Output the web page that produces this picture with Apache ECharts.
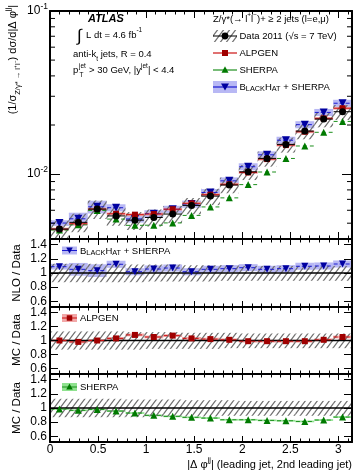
<!DOCTYPE html>
<html><head><meta charset="utf-8">
<script src="https://cdn.jsdelivr.net/npm/echarts@6/dist/echarts.min.js"></script>
<style>html,body{margin:0;padding:0;background:#fff}#c{width:353px;height:473px}</style>
</head><body><div id="c"></div>
<script>
// ---------------- data ----------------
const binEdges = [0, 0.19635, 0.3927, 0.58905, 0.7854, 0.98175, 1.1781, 1.37445, 1.5708, 1.76715, 1.9635, 2.15985, 2.3562, 2.55255, 2.7489, 2.94525, 3.14159];
const dataVals = [0.00460, 0.00506, 0.00610, 0.00554, 0.00522, 0.00542, 0.00569, 0.00643, 0.00733, 0.00857, 0.01033, 0.01248, 0.01521, 0.01836, 0.02174, 0.02413];
const dataErrUp = [0.13, 0.13, 0.13, 0.13, 0.12, 0.12, 0.12, 0.11, 0.11, 0.11, 0.10, 0.10, 0.10, 0.10, 0.10, 0.10];
const dataErrDown = [0.13, 0.13, 0.13, 0.13, 0.13, 0.12, 0.12, 0.12, 0.12, 0.11, 0.11, 0.11, 0.11, 0.11, 0.11, 0.11];
const alpgenVals = [0.00460, 0.00496, 0.00610, 0.00571, 0.00564, 0.00569, 0.00609, 0.00662, 0.00748, 0.00866, 0.01023, 0.01236, 0.01506, 0.01818, 0.02196, 0.02534];
const sherpaVals = [0.00454, 0.00489, 0.00598, 0.00530, 0.00485, 0.00486, 0.00502, 0.00558, 0.00629, 0.00715, 0.00862, 0.01030, 0.01247, 0.01487, 0.01804, 0.02104];
const blackhatVals = [0.00501, 0.00532, 0.00630, 0.00622, 0.00531, 0.00572, 0.00609, 0.00655, 0.00771, 0.00909, 0.01110, 0.01313, 0.01614, 0.02010, 0.02389, 0.02719];
const blackhatRatio = [1.089, 1.052, 1.033, 1.123, 1.018, 1.056, 1.07, 1.018, 1.052, 1.061, 1.075, 1.052, 1.061, 1.095, 1.099, 1.127];
const blackhatErr = [0.04, 0.09, 0.09, 0.05, 0.05, 0.05, 0.05, 0.05, 0.05, 0.05, 0.05, 0.05, 0.05, 0.05, 0.05, 0.05];
const alpgenRatio = [1.0, 0.98, 1.0, 1.03, 1.08, 1.05, 1.07, 1.03, 1.02, 1.01, 0.99, 0.99, 0.99, 0.99, 1.01, 1.05];
const alpgenErr = [0.02, 0.02, 0.02, 0.02, 0.02, 0.02, 0.02, 0.02, 0.02, 0.02, 0.02, 0.02, 0.02, 0.02, 0.02, 0.02];
const sherpaRatio = [0.986, 0.967, 0.98, 0.957, 0.929, 0.896, 0.882, 0.868, 0.858, 0.834, 0.834, 0.825, 0.82, 0.81, 0.83, 0.872];
const sherpaErr = [0.012, 0.012, 0.012, 0.012, 0.012, 0.012, 0.012, 0.012, 0.012, 0.012, 0.012, 0.012, 0.012, 0.012, 0.012, 0.012];
const logMinorTicks = [0.005, 0.006, 0.007, 0.008, 0.009, 0.02, 0.03, 0.04, 0.05, 0.06, 0.07, 0.08, 0.09];
const ratioTicks = [0.6, 0.8, 1, 1.2, 1.4];

// ---------------- style ----------------
const FF = '"Liberation Sans", Arial, Helvetica, sans-serif';
const C_RED = '#a00000', C_RED_L = '#cc1111', C_RED_BAND = '#f2a8a8';
const C_GRN = '#007a00', C_GRN_L = '#1d8f1d', C_GRN_BAND = '#8fe28f';
const C_BLU = '#0000a0', C_BLU_L = '#1a1ad0', C_BLU_BAND = '#b8b8f4';

const hatchCanvas = (function () {
  const w = 6, h = 8, c = document.createElement('canvas');
  c.width = w; c.height = h;
  const g = c.getContext('2d');
  g.strokeStyle = '#707070'; g.lineWidth = 1.25;
  g.beginPath();
  for (let n = 0; n <= 2; n++) {
    g.moveTo(-w, (n + 1) * h); g.lineTo(2 * w, (n - 2) * h);
  }
  g.stroke();
  return c;
})();
const HATCH = { image: hatchCanvas, repeat: 'repeat' };

const centers = dataVals.map((v, i) => (binEdges[i] + binEdges[i + 1]) / 2);

// ---------------- series helpers ----------------
function boxes(xi, yi, lo, hi, fill, z) {
  return {
    type: 'custom', xAxisIndex: xi, yAxisIndex: yi, z, silent: true, clip: true,
    data: lo.map((l, i) => [binEdges[i], binEdges[i + 1], l, hi[i]]),
    encode: { x: [0, 1], y: [2, 3] },
    renderItem(p, api) {
      const a = api.coord([api.value(0), api.value(3)]);
      const b = api.coord([api.value(1), api.value(2)]);
      return { type: 'rect', shape: { x: a[0], y: a[1], width: b[0] - a[0], height: b[1] - a[1] }, style: { fill: fill } };
    }
  };
}
function hlines(xi, yi, vals, color, width, dash, z) {
  return {
    type: 'custom', xAxisIndex: xi, yAxisIndex: yi, z, silent: true, clip: true,
    data: vals.map((v, i) => [binEdges[i], binEdges[i + 1], v]),
    encode: { x: [0, 1], y: 2 },
    renderItem(p, api) {
      const a = api.coord([api.value(0), api.value(2)]);
      const b = api.coord([api.value(1), api.value(2)]);
      return { type: 'line', shape: { x1: a[0] + 0.5, y1: a[1], x2: b[0] - 0.5, y2: b[1] }, style: { stroke: color, lineWidth: width, lineDash: dash || null } };
    }
  };
}
function markers(xi, yi, vals, symbol, size, color, rot, z) {
  return {
    type: 'scatter', xAxisIndex: xi, yAxisIndex: yi, z, silent: true,
    symbol, symbolSize: size, symbolRotate: rot || 0,
    itemStyle: { color: color, opacity: 1 },
    data: vals.map((v, i) => [centers[i], v])
  };
}
function unity(xi, yi) {
  return {
    type: 'line', xAxisIndex: xi, yAxisIndex: yi, z: 3, silent: true, symbol: 'none',
    lineStyle: { color: '#000', width: 1.4 }, data: [[0, 1], [Math.PI, 1]]
  };
}

// ---------------- axes ----------------
const grids = [
  { left: 50, top: 11, width: 302, height: 228 },
  { left: 50, top: 239, width: 302, height: 68 },
  { left: 50, top: 307, width: 302, height: 67 },
  { left: 50, top: 374, width: 302, height: 68 }
].map(g => Object.assign({ containLabel: false, outerBoundsMode: 'none', show: false }, g));

function xAx(grid, pos, showLabel, major, minor) {
  return {
    type: 'value', gridIndex: grid, position: pos, min: 0, max: Math.PI, interval: 0.5, z: 10,
    axisLine: { show: true, onZero: false, lineStyle: { color: '#000', width: 2 } },
    axisTick: { show: true, inside: true, length: major, lineStyle: { color: '#000', width: 1 } },
    minorTick: { show: true, splitNumber: 5, length: minor, lineStyle: { color: '#000', width: 1 } },
    axisLabel: {
      show: showLabel, margin: 2, color: '#000', fontFamily: FF, fontSize: 12,
      formatter: v => (Math.abs(v * 2 - Math.round(v * 2)) < 1e-6 ? String(+v.toFixed(1)) : '')
    },
    splitLine: { show: false }, minorSplitLine: { show: false }
  };
}
function yRatio(grid, pos, showLabel) {
  return {
    type: 'value', gridIndex: grid, position: pos, min: 0.52, max: 1.48, z: 10,
    axisLine: { show: true, onZero: false, lineStyle: { color: '#000', width: 2 } },
    axisTick: { show: true, inside: true, length: 8, customValues: ratioTicks, lineStyle: { color: '#000', width: 1 } },
    axisLabel: {
      show: showLabel, customValues: ratioTicks, margin: 3, color: '#000', fontFamily: FF, fontSize: 12,
      formatter: v => String(+(+v).toFixed(1))
    },
    splitLine: { show: false }
  };
}
function yMain(pos, showLabel) {
  return {
    type: 'log', logBase: 10, gridIndex: 0, position: pos, min: 0.004, max: 0.1, z: 10,
    axisLine: { show: true, onZero: false, lineStyle: { color: '#000', width: 2 } },
    axisTick: { show: true, inside: true, length: 10, lineStyle: { color: '#000', width: 1 } },
    axisLabel: {
      show: showLabel, margin: 2, color: '#000', fontFamily: FF,
      formatter: v => {
        const e = Math.log10(v);
        if (Math.abs(e - Math.round(e)) > 1e-6) return '';
        return '{a|10}{b|' + Math.round(e) + '}';
      },
      rich: {
        a: { fontFamily: FF, fontSize: 12, color: '#000', lineHeight: 18 },
        b: { fontFamily: FF, fontSize: 8.5, color: '#000', verticalAlign: 'top', lineHeight: 9 }
      }
    },
    splitLine: { show: false }
  };
}

const xAxes = [
  xAx(0, 'bottom', false, 7, 3.5), xAx(0, 'top', false, 7, 3.5),
  xAx(1, 'bottom', false, 6, 3.5), xAx(1, 'top', false, 6, 3.5),
  xAx(2, 'bottom', false, 6, 3.5), xAx(2, 'top', false, 6, 3.5),
  xAx(3, 'bottom', true, 6, 3.5), xAx(3, 'top', false, 6, 3.5)
];
const yAxes = [
  yMain('left', true), yMain('right', false),
  yRatio(1, 'left', true), yRatio(1, 'right', false),
  yRatio(2, 'left', true), yRatio(2, 'right', false),
  yRatio(3, 'left', true), yRatio(3, 'right', false)
];

// ---------------- series ----------------
const series = [
  // main panel
  boxes(0, 0, blackhatVals.map((v, i) => v * (1 - blackhatErr[i])), blackhatVals.map((v, i) => v * (1 + blackhatErr[i])), C_BLU_BAND, 1),
  boxes(0, 0, alpgenVals.map((v, i) => v * (1 - alpgenErr[i])), alpgenVals.map((v, i) => v * (1 + alpgenErr[i])), C_RED_BAND, 1),
  boxes(0, 0, dataVals.map((v, i) => v * (1 - dataErrDown[i])), dataVals.map((v, i) => v * (1 + dataErrUp[i])), HATCH, 2),
  hlines(0, 0, sherpaVals, C_GRN_L, 1, [4, 3], 4),
  hlines(0, 0, blackhatVals, C_BLU_L, 1, [4, 2], 4),
  hlines(0, 0, alpgenVals, C_RED_L, 1, null, 4),
  hlines(0, 0, dataVals, '#000', 1, null, 4),
  markers(0, 0, blackhatVals, 'triangle', 8, C_BLU, 180, 5),
  markers(0, 0, alpgenVals, 'rect', 6, C_RED, 0, 5),
  markers(0, 0, sherpaVals, 'triangle', 7, C_GRN, 0, 5),
  markers(0, 0, dataVals, 'circle', 7, '#000', 0, 6),
  // log minor ticks on both sides of the main panel
  {
    type: 'custom', xAxisIndex: 0, yAxisIndex: 0, z: 11, silent: true, clip: false,
    data: logMinorTicks.map(v => [0, v]), encode: { x: 0, y: 1 },
    renderItem(p, api) {
      const a = api.coord([0, api.value(1)]);
      const b = api.coord([Math.PI, api.value(1)]);
      return {
        type: 'group', children: [
          { type: 'line', shape: { x1: a[0], y1: a[1], x2: a[0] + 5, y2: a[1] }, style: { stroke: '#000', lineWidth: 1 } },
          { type: 'line', shape: { x1: b[0] - 5, y1: b[1], x2: b[0], y2: b[1] }, style: { stroke: '#000', lineWidth: 1 } }
        ]
      };
    }
  },
  // ratio 1: NLO / Data
  boxes(2, 2, blackhatRatio.map((r, i) => r - blackhatErr[i]), blackhatRatio.map((r, i) => r + blackhatErr[i]), C_BLU_BAND, 1),
  boxes(2, 2, dataErrDown.map(e => 1 - e), dataErrUp.map(e => 1 + e), HATCH, 2),
  unity(2, 2),
  hlines(2, 2, blackhatRatio, C_BLU_L, 1, [4, 2], 4),
  markers(2, 2, blackhatRatio, 'triangle', 7, C_BLU, 180, 5),
  // ratio 2: ALPGEN
  boxes(4, 4, alpgenRatio.map((r, i) => r - alpgenErr[i]), alpgenRatio.map((r, i) => r + alpgenErr[i]), C_RED_BAND, 1),
  boxes(4, 4, dataErrDown.map(e => 1 - e), dataErrUp.map(e => 1 + e), HATCH, 2),
  unity(4, 4),
  hlines(4, 4, alpgenRatio, C_RED_L, 1, [4, 2], 4),
  markers(4, 4, alpgenRatio, 'rect', 6, C_RED, 0, 5),
  // ratio 3: SHERPA
  boxes(6, 6, sherpaRatio.map((r, i) => r - sherpaErr[i]), sherpaRatio.map((r, i) => r + sherpaErr[i]), C_GRN_BAND, 1),
  boxes(6, 6, dataErrDown.map(e => 1 - e), dataErrUp.map(e => 1 + e), HATCH, 2),
  unity(6, 6),
  hlines(6, 6, sherpaRatio, C_GRN_L, 1, [4, 2], 4),
  markers(6, 6, sherpaRatio, 'triangle', 7, C_GRN, 0, 5)
];

// ---------------- text & legends (graphic) ----------------
const RICH = {
  n: { fontFamily: FF, fontSize: 9.5, color: '#000', lineHeight: 16 },
  sup: { fontFamily: FF, fontSize: 6.5, color: '#000', verticalAlign: 'top', lineHeight: 7 },
  sub: { fontFamily: FF, fontSize: 6.5, color: '#000', verticalAlign: 'bottom', lineHeight: 7 },
  C: { fontFamily: FF, fontSize: 9.5, color: '#000', verticalAlign: 'bottom', lineHeight: 9.5 },
  s: { fontFamily: FF, fontSize: 7.3, color: '#000', verticalAlign: 'bottom', lineHeight: 7.3 },
  N: { fontFamily: FF, fontSize: 11, color: '#000', lineHeight: 18 },
  Nsub: { fontFamily: FF, fontSize: 7.5, color: '#000', verticalAlign: 'bottom', lineHeight: 7.5 },
  Nsup: { fontFamily: FF, fontSize: 7.5, color: '#000', verticalAlign: 'top', lineHeight: 7.5 }
};
function T(x, y, text, o) {
  o = o || {};
  const st = {
    text, fontFamily: FF, fontSize: o.fs || 9.5, fontWeight: o.fw || 'normal', fontStyle: o.fst || 'normal',
    fill: '#000', textAlign: o.align || 'left', textVerticalAlign: o.va || 'middle',
    align: o.align || 'left', verticalAlign: o.va || 'middle', rich: RICH
  };
  return { type: 'text', x, y, rotation: o.rot || 0, z: 100, silent: true, style: st };
}
function R(x, y, w, h, fill) { return { type: 'rect', z: 99, silent: true, shape: { x, y, width: w, height: h }, style: { fill } }; }
function L(x1, y1, x2, y2, c, w, dash) { return { type: 'line', z: 100, silent: true, shape: { x1, y1, x2, y2 }, style: { stroke: c, lineWidth: w || 1, lineDash: dash || null } }; }
function TRI(cx, cy, s, c, down) {
  const h = s * 0.9;
  const pts = down ? [[cx - s / 2, cy - h / 2], [cx + s / 2, cy - h / 2], [cx, cy + h / 2]]
                   : [[cx - s / 2, cy + h / 2], [cx + s / 2, cy + h / 2], [cx, cy - h / 2]];
  return { type: 'polygon', z: 101, silent: true, shape: { points: pts }, style: { fill: c } };
}
function SQ(cx, cy, s, c) { return { type: 'rect', z: 101, silent: true, shape: { x: cx - s / 2, y: cy - s / 2, width: s, height: s }, style: { fill: c } }; }
function CI(cx, cy, r, c) { return { type: 'circle', z: 101, silent: true, shape: { cx, cy, r }, style: { fill: c } }; }

const BH_TEXT = '{C|B}{s|LACK}{C|H}{s|AT}{C| + SHERPA}';

const graphics = [
  // axis titles
  T(13, 5, '{N|(1/σ}{Nsub|Z/γ* → l⁺l⁻}{N|) dσ/d|Δ φ}{Nsup|jj}{N||}', { rot: Math.PI / 2, align: 'right', fs: 11 }),
  T(17, 273, 'NLO / Data', { rot: Math.PI / 2, align: 'center', fs: 11.5 }),
  T(17, 340, 'MC / Data', { rot: Math.PI / 2, align: 'center', fs: 11.5 }),
  T(17, 408, 'MC / Data', { rot: Math.PI / 2, align: 'center', fs: 11.5 }),
  T(352, 465, '{N||Δ φ}{Nsup|jj}{N|| (leading jet, 2nd leading jet)}', { align: 'right', fs: 11 }),

  // ATLAS annotations
  T(88, 18.5, 'ATLAS', { fw: 'bold', fst: 'italic', fs: 11 }),
  T(77, 36.5, '∫', { fs: 17 }),
  T(86, 35, '{n|L dt = 4.6 fb}{sup|-1}'),
  T(73, 54.5, '{n|anti-k}{sub|t}{n| jets, R = 0.4}'),
  T(73, 70.5, 'p'),
  T(79, 66, 'jet', { fs: 6.5 }),
  T(79.5, 75, 'T', { fs: 6.5 }),
  T(89, 70.5, '{n|> 30 GeV, |y}{sup|jet}{n|| < 4.4}'),

  // main legend
  T(213, 19.5, '{n|Z/γ*(→ l}{sup|+}{n|l}{sup|−}{n|)+ ≥ 2 jets (l=e,μ)}'),
  R(213, 30, 24, 12, HATCH),
  L(213, 36, 237, 36, '#000', 1),
  CI(225, 36, 3.4, '#000'),
  T(239.5, 36, 'Data 2011 (√s = 7 TeV)'),
  L(213, 53, 237, 53, C_RED_L, 1.2),
  SQ(225, 53, 6, C_RED),
  T(239.5, 53, 'ALPGEN'),
  L(213, 70, 237, 70, C_GRN_L, 1.2),
  TRI(225, 69.5, 7, C_GRN, false),
  T(239.5, 70, 'SHERPA'),
  R(213, 81, 24, 12, C_BLU_BAND),
  L(213, 87, 237, 87, C_BLU_L, 1.2),
  TRI(225, 87, 8, C_BLU, true),
  T(239.5, 87.5, BH_TEXT),

  // ratio legends
  R(62, 246.5, 15, 8, C_BLU_BAND),
  L(62, 250.5, 77, 250.5, C_BLU_L, 1),
  TRI(69.5, 250.5, 6.5, C_BLU, true),
  T(80, 251.5, BH_TEXT),
  R(62, 314, 15, 8, C_RED_BAND),
  L(62, 318, 77, 318, C_RED_L, 1),
  SQ(69.5, 318, 5.5, C_RED),
  T(80, 318, 'ALPGEN'),
  R(62, 383, 15, 8, C_GRN_BAND),
  L(62, 387, 77, 387, C_GRN_L, 1),
  TRI(69.5, 386.5, 6.5, C_GRN, false),
  T(80, 387, 'SHERPA')
];

const chart = echarts.init(document.getElementById('c'), null, { renderer: 'canvas', width: 353, height: 473 });
chart.setOption({
  animation: false,
  backgroundColor: '#fff',
  grid: grids,
  xAxis: xAxes,
  yAxis: yAxes,
  series: series,
  graphic: { elements: graphics }
});
</script>
</body></html>
